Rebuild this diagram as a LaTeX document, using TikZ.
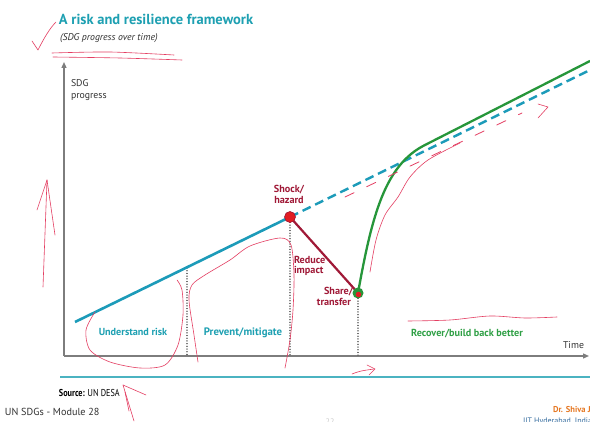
\documentclass[tikz,border=0pt]{standalone}
\usepackage{fontspec}
\usepackage{graphicx}
\setmainfont{PT Sans}
\usetikzlibrary{arrows.meta,calc}
\definecolor{tealT}{RGB}{30,160,178}
\definecolor{tealL}{RGB}{28,155,185}
\definecolor{dred}{RGB}{160,25,55}
\definecolor{redc}{RGB}{225,30,35}
\definecolor{grn}{RGB}{38,150,58}
\definecolor{grnT}{RGB}{48,160,70}
\definecolor{axg}{RGB}{125,125,125}
\definecolor{annot}{RGB}{228,62,98}
\definecolor{orng}{RGB}{230,120,35}
\definecolor{iitb}{RGB}{55,110,160}
\definecolor{dgray}{RGB}{50,50,50}
\begin{document}
\begin{tikzpicture}[x=1pt,y=-1pt,
  txt/.style={inner sep=0pt, outer sep=0pt},
  lab/.style={txt, font=\bfseries\fontsize{10.2}{12}\selectfont},
  axisline/.style={draw=axg, line width=1.2pt, -{Triangle[length=6pt,width=5pt]}},
  dotline/.style={draw=axg!80!black, line width=1.3pt, dash pattern=on 0.1pt off 2.6pt, line cap=round},
  ann/.style={draw=annot, line width=0.6pt, line cap=round, line join=round},
  pointshock/.style={circle, fill=redc, draw=dred, line width=0.6pt, minimum size=11pt, inner sep=0pt},
  pointshare/.style={circle, fill=grn, minimum size=11pt, inner sep=0pt},
]
\useasboundingbox (0,0) rectangle (590,422);
\fill[white] (0,0) rectangle (590,422);

% ---- coordinates
\coordinate (orig) at (64,356);
\coordinate (ytop) at (64,62);
\coordinate (xend) at (589,356);
\coordinate (start) at (75,322);
\coordinate (cshock) at (290,217);
\coordinate (cshare) at (358,293);
\coordinate (dashend) at (590,70);
\coordinate (greenend) at (590,61);
\coordinate (d1top) at (187,268);
\coordinate (d1bot) at (187,356);
\coordinate (d2bot) at (290,356);
\coordinate (d3bot) at (358,356);
\coordinate (rulea) at (60,377);
\coordinate (ruleb) at (590,377);

% ---- axes
\draw[axisline] (orig) -- (ytop);
\draw[axisline] (orig) -- (xend);

% ---- dotted guides
\draw[dotline] (d1top) -- (d1bot);
\draw[dotline] (cshock) -- (d2bot);
\draw[dotline] (cshare) -- (d3bot);

% ---- trajectories
\draw[tealL, line width=2.6pt] (start) -- (cshock);
\draw[tealL, line width=2.4pt, dash pattern=on 9pt off 5pt] (cshock) -- (dashend);
\draw[dred, line width=2.2pt] (cshock) -- (cshare);
\draw[grn, line width=2.3pt] (cshare) .. controls (372,215) and (385,165) .. (425,145) -- (greenend);

\node[pointshock] (shock) at (cshock) {};
\node[pointshare] (share) at (cshare) {};
\fill[redc] ($(cshare)+(0.5,1.5)$) circle (2.8pt);

% ---- bottom rule
\draw[tealT!80, line width=1.6pt] (rulea) -- (ruleb);

% ---- texts
\node[txt, anchor=base west, text=tealT, font=\bfseries\fontsize{14.5}{16}\selectfont] (title) at (59,25) {A risk and resilience framework};
\node[txt, anchor=base west, text=dgray, font=\itshape\fontsize{9.8}{11}\selectfont] (subtitle) at (60,41) {(SDG progress over time)};
\node[txt, anchor=base west, text=dgray, font=\fontsize{9.8}{11}\selectfont] (ylab1) at (71,87) {SDG};
\node[txt, anchor=base west, text=dgray, font=\fontsize{9.8}{11}\selectfont] (ylab2) at (71,99) {progress};
\node[txt, anchor=base west, text=dgray, font=\fontsize{9.8}{11}\selectfont] (xlab) at (563,349) {Time};

\node[lab, anchor=base, text=dred] (shk1) at (289,193) {Shock/};
\node[lab, anchor=base, text=dred] (shk2) at (289,204) {hazard};
\node[lab, anchor=base west, text=dred] (red1) at (294,264) {Reduce};
\node[lab, anchor=base west, text=dred] (red2) at (294,274) {impact};
\node[lab, anchor=base east, text=dred] (sh1) at (353,295) {Share/};
\node[lab, anchor=base east, text=dred] (sh2) at (351,306) {transfer};

\node[lab, anchor=base, text=tealT] (und) at (133,336) {Understand risk};
\node[lab, anchor=base, text=tealT, font=\bfseries\fontsize{10.8}{12}\selectfont] (prev) at (243,336) {Prevent/mitigate};
\node[lab, anchor=base, text=grnT] (recov) at (467,337) {Recover/build back better};

\node[txt, anchor=base west, text=black, font=\fontsize{10}{11}\selectfont] (src) at (59,397) {\scalebox{0.82}[1]{\textbf{Source:} UN DESA}};
\node[txt, anchor=base west, text=dgray, font=\fontsize{10.2}{12}\selectfont] (mod) at (5,416) {UN SDGs - Module 28};
\node[txt, anchor=base west, text=orng, font=\bfseries\fontsize{8.5}{10}\selectfont] (dr) at (553,413) {Dr. Shiva Ji};
\node[txt, anchor=base west, text=iitb, font=\fontsize{8}{9}\selectfont] (iit) at (523,424) {IIT Hyderabad, India};
\node[txt, anchor=base, text=gray!40, font=\fontsize{8}{9}\selectfont] (pg) at (330,425) {22};

% ---- handwritten annotations
\draw[ann] (32,41) .. controls (35,45) .. (38,50) .. controls (44,38) and (50,28) .. (56,22);
\draw[ann] plot[smooth] coordinates {(52,53) (110,52) (174,55)};
\draw[ann] plot[smooth] coordinates {(53,57) (120,58) (182,60)};
\draw[ann] (43,287) -- (47,180);
\draw[ann] (37,210) -- (47,180) -- (55,235);
\draw[ann] plot[smooth] coordinates {(95,312) (86,330) (90,350) (110,362) (140,368) (165,365) (178,345) (183,315) (182,290) (177,280)};
\draw[ann] plot[smooth] coordinates {(198,362) (194,335) (189,300) (192,285) (205,275) (230,260) (250,246) (280,238) (291,245) (294,275) (293,310) (290,340) (285,368)};
\draw[ann] plot[smooth] coordinates {(370,272) (376,240) (385,215) (398,197) (410,177) (428,160) (460,143)};
\draw[ann, line width=0.8pt, dash pattern=on 10pt off 14pt] (345,197) -- (522,113);
\draw[ann] (538,104) -- (548,107) -- (538,118);
\draw[ann] plot[smooth] coordinates {(408,321) (450,320) (490,316) (525,318) (557,317)};
\draw[ann] (352,374) .. controls (360,371) .. (374,369);
\draw[ann] (367,365) -- (375,369) -- (369,375);
\draw[ann] (123,385) -- (146,395);
\draw[ann] (123,385) -- (134,421);
\draw[ann] (125,392) -- (129,411);
\end{tikzpicture}
\end{document}
